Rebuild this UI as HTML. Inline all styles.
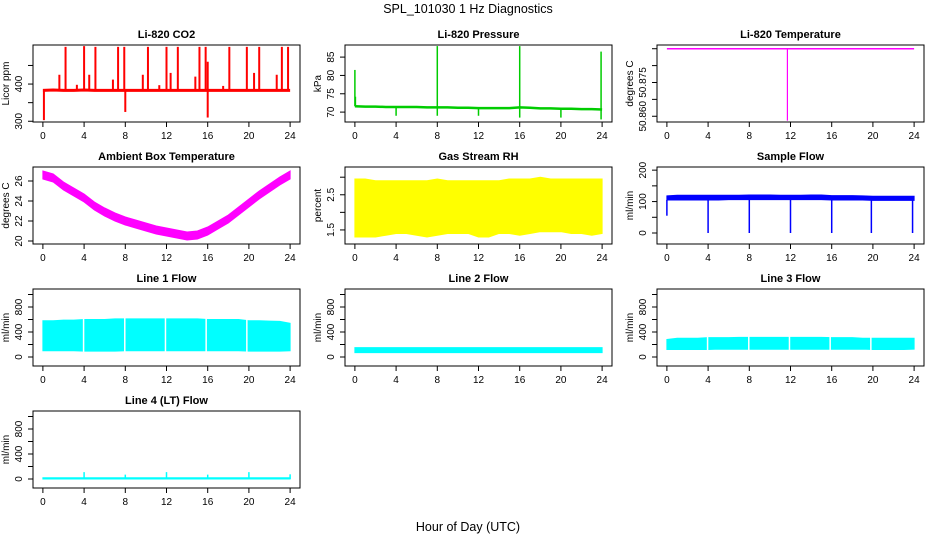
<!DOCTYPE html>
<html><head><meta charset="utf-8"><style>
html,body{margin:0;padding:0;background:#fff;}
svg{display:block;font-family:"Liberation Sans",sans-serif;}
</style></head><body>
<svg id="c" width="936" height="540" viewBox="0 0 936 540" xmlns="http://www.w3.org/2000/svg">
<text x="468" y="13" text-anchor="middle" font-size="12.5">SPL_101030  1 Hz Diagnostics</text>
<text x="468" y="531" text-anchor="middle" font-size="12.5">Hour of Day (UTC)</text>
</svg>
<script>
// ---- shared data ----
const xTicks = [0,4,8,12,16,20,24];
const hours = [0,1,2,3,4,5,6,7,8,9,10,11,12,13,14,15,16,17,18,19,20,21,22,23,24];

// CO2
const co2Base = [383,384,383,383,384,383,383,383,383,383,383,383,383,383,383,383,383,383,383,383,383,383,383,383,383];
const co2SpikeHours = [2.2,4.0,5.1,7.3,7.9,10.2,12.0,13.1,15.2,15.8,18.1,19.8,21.0,23.2,23.8,1.6,4.5,6.8,9.7,12.4,14.8,16.0,20.5,22.7,0.1,8.0,16.0,3.3,11.3,17.5];
const co2SpikeVals  = [500,502,500,500,500,500,500,500,500,500,500,500,500,500,500,425,425,412,425,430,420,460,430,425,303,325,310,398,397,395];
const co2Ticks = [300,350,400,450];
const co2Labels = ["300","","400",""];

// Pressure
const presBase = [71.6,71.5,71.5,71.4,71.4,71.4,71.4,71.3,71.3,71.3,71.2,71.2,71.1,71.1,71.1,71.1,71.3,71.2,71.0,71.0,70.9,70.9,70.8,70.8,70.7];
const presSpikeHours = [0.0,0.05,8.0,16.0,23.9,4.0,8.0,12.0,16.0,20.0,23.9];
const presSpikeVals  = [81.5,74.2,88.0,88.0,86.5,69.0,69.0,69.0,68.5,68.5,68.0];
const presTicks = [70,75,80,85];
const presLabels = ["70","75","80","85"];

// Li-820 temperature
const ltBase = [50.88,50.88,50.88,50.88,50.88,50.88,50.88,50.88,50.88,50.88,50.88,50.88,50.88,50.88,50.88,50.88,50.88,50.88,50.88,50.88,50.88,50.88,50.88,50.88,50.88];
const ltSpikeHours = [11.7];
const ltSpikeVals = [50.8587];
const ltTicks = [50.860,50.865,50.870,50.875,50.880];
const ltLabels = ["50.860","","50.875","",""];

// Ambient box temperature
const ambMid = [26.6,26.3,25.5,24.9,24.3,23.5,22.9,22.4,22.0,21.7,21.4,21.1,20.9,20.7,20.5,20.6,21.0,21.6,22.2,23.0,23.8,24.6,25.3,26.0,26.6];
const ambTicks = [20,22,24,26];
const ambLabels = ["20","22","24","26"];

// Gas stream RH
const rhLo = [1.3,1.3,1.3,1.35,1.4,1.4,1.35,1.3,1.35,1.4,1.4,1.4,1.3,1.3,1.4,1.4,1.35,1.4,1.45,1.45,1.45,1.4,1.4,1.35,1.4];
const rhHi = [2.95,2.95,2.9,2.9,2.9,2.9,2.9,2.9,2.95,2.9,2.9,2.9,2.9,2.9,2.9,2.95,2.95,2.95,3.0,2.95,2.95,2.95,2.95,2.95,2.95];
const rhTicks = [1.5,2.0,2.5,3.0];
const rhLabels = ["1.5","","2.5",""];

// Sample flow
const sfLo = [105,105,105,105,105,105,106,106,106,106,106,106,106,106,106,106,105,105,105,105,104,104,104,104,104];
const sfHi = [118,120,120,120,120,120,120,120,121,121,121,120,120,120,121,121,119,119,119,118,117,117,117,117,117];
const sfDipHours = [0.0,4.0,8.0,12.0,16.0,19.85,23.85];
const sfDipVals  = [55,0,0,0,0,0,0];
const sfTicks = [0,50,100,150,200];
const sfLabels = ["0","","100","","200"];

// Line flows
const flowTicks = [0,200,400,600,800,1000];
const flowLabels = ["0","","400","","800",""];
const gapHours = [3.95,7.95,11.9,15.85,19.8];
const l1Lo = [100,100,100,100,95,95,95,95,100,100,100,100,100,100,100,100,100,100,100,100,95,95,95,95,100];
const l1Hi = [580,580,590,590,600,600,600,610,610,610,610,610,610,610,610,610,600,600,600,600,580,580,575,570,540];
const l2Lo = [70,70,70,70,70,70,70,70,70,70,70,70,70,70,70,70,70,70,70,70,70,70,70,70,70];
const l2Hi = [150,150,150,150,150,150,150,150,150,150,150,150,150,150,150,150,150,150,150,150,150,150,150,150,150];
const l3Lo = [120,120,120,120,120,125,125,125,125,125,125,125,125,125,125,125,125,125,125,125,120,120,120,120,125];
const l3Hi = [280,300,300,300,310,310,310,315,315,315,315,315,315,315,315,315,310,310,310,300,300,300,300,300,300];
const l4Lo = [0,0,0,0,0,0,0,0,0,0,0,0,0,0,0,0,0,0,0,0,0,0,0,0,0];
const l4Hi = [20,20,20,20,20,20,20,20,20,20,20,20,20,20,20,20,20,20,20,20,20,20,20,20,20];
const l4SpikeHours = [4,8,12,16,20,24];
const l4SpikeVals = [110,70,110,70,110,75];

const svg = document.getElementById('c');
const NS = 'http://www.w3.org/2000/svg';
function mk(tag, attrs, parent){
  const e = document.createElementNS(NS, tag);
  for (const k in attrs) e.setAttribute(k, attrs[k]);
  (parent||svg).appendChild(e);
  return e;
}

function panel(opt){
  const L = 33 + 312*opt.col, T = 45 + 122*opt.row, W = 267, H = 77;
  const g = mk('g', {});
  
  
  const xs = h => L + (h + 0.96) / 25.92 * W;
  const ys = v => T + H - (v - opt.ylo) / (opt.yhi - opt.ylo) * H;
  const c = opt.color;
  if (opt.lo && opt.hi){
    let pts = hours.map((h,i)=>xs(h)+','+ys(opt.hi[i]));
    for (let i=hours.length-1;i>=0;i--) pts.push(xs(hours[i])+','+ys(opt.lo[i]));
    const b = mk('polygon', {points: pts.join(' '), fill: c, stroke: c, 'stroke-width': 1}, g);
    
    
  }
  if (opt.base){
    const p = mk('polyline', {points: hours.map((h,i)=>xs(h)+','+ys(opt.base[i])).join(' '), fill:'none', stroke:c, 'stroke-width': opt.bw||2.5}, g);
    
    
  }
  if (opt.gaps){
    opt.gaps.forEach(h=>{
      const r = mk('line', {x1:xs(h), x2:xs(h), y1:T+2, y2:T+H-2, stroke:'#fff', 'stroke-width':1.5}, g);
      
      
    });
  }
  if (opt.spH){
    opt.spH.forEach((h,i)=>{
      const bi = Math.min(24, Math.max(0, Math.round(h)));
      const from = opt.base ? opt.base[bi] : (opt.spFrom!==undefined ? opt.spFrom : (opt.lo ? (opt.spV[i] < opt.lo[bi] ? opt.lo[bi] : opt.hi[bi]) : 0));
      const s = mk('line', {x1:xs(h), x2:xs(h), y1:ys(from), y2:ys(opt.spV[i]), stroke:c, 'stroke-width': opt.sw||1.5}, g);
      
      
    });
  }
  const bx = mk('rect', {x:L, y:T, width:W, height:H, fill:'none', stroke:'#000', 'stroke-width':1}, g);
  
  
  const t = mk('text', {x:L+W/2, y:T-7, 'text-anchor':'middle', 'font-size':11, 'font-weight':'bold'}, g);
  t.textContent = opt.title;
  
  
  mk('line', {x1:xs(0), x2:xs(24), y1:T+H, y2:T+H, stroke:'#000'}, g);
  xTicks.forEach(v=>{
    mk('line', {x1:xs(v), x2:xs(v), y1:T+H, y2:T+H+5, stroke:'#000'}, g);
    const tl = mk('text', {x:xs(v), y:T+H+17, 'text-anchor':'middle', 'font-size':10}, g);
    tl.textContent = v;
    
    
  });
  mk('line', {x1:L, x2:L, y1:ys(opt.ticks[0]), y2:ys(opt.ticks[opt.ticks.length-1]), stroke:'#000'}, g);
  opt.ticks.forEach((v,i)=>{
    mk('line', {x1:L-5, x2:L, y1:ys(v), y2:ys(v), stroke:'#000'}, g);
    if (opt.labels[i]){
      const yl = mk('text', {x:0, y:0, 'text-anchor':'middle', 'font-size':10, transform:`translate(${L-11},${ys(v)}) rotate(-90)`}, g);
      yl.textContent = opt.labels[i];
      
      
    }
  });
  const ya = mk('text', {x:0, y:0, 'text-anchor':'middle', 'font-size':10, transform:`translate(${L-24},${T+H/2}) rotate(-90)`}, g);
  ya.textContent = opt.ylab;
  
  
}

const ambLo = ambMid.map(v=>v-0.4), ambHi = ambMid.map(v=>v+0.4);
panel({name:'co2-panel', col:0,row:0,title:'Li-820 CO2', ylab:'Licor ppm', color:'#ff0000', ylo:298, yhi:505, ticks:co2Ticks, labels:co2Labels, base:co2Base, bw:3, spH:co2SpikeHours, spV:co2SpikeVals, sw:2});
panel({name:'pressure-panel', col:1,row:0,title:'Li-820 Pressure', ylab:'kPa', color:'#00cc00', ylo:67.3, yhi:88.3, ticks:presTicks, labels:presLabels, base:presBase, bw:2.5, spH:presSpikeHours, spV:presSpikeVals, sw:1.5});
panel({name:'licor-temp-panel', col:2,row:0,title:'Li-820 Temperature', ylab:'degrees C', color:'#ff00ff', ylo:50.8583, yhi:50.8811, ticks:ltTicks, labels:ltLabels, base:ltBase, bw:1.5, spH:ltSpikeHours, spV:ltSpikeVals, sw:1.2});
panel({name:'ambient-temp-panel', col:0,row:1,title:'Ambient Box Temperature', ylab:'degrees C', color:'#ff00ff', ylo:19.7, yhi:27.4, ticks:ambTicks, labels:ambLabels, lo:ambLo, hi:ambHi});
panel({name:'rh-panel', col:1,row:1,title:'Gas Stream RH', ylab:'percent', color:'#ffff00', ylo:1.1, yhi:3.29, ticks:rhTicks, labels:rhLabels, lo:rhLo, hi:rhHi});
panel({name:'sample-flow-panel', col:2,row:1,title:'Sample Flow', ylab:'ml/min', color:'#0000ff', ylo:-35, yhi:210, ticks:sfTicks, labels:sfLabels, lo:sfLo, hi:sfHi, spH:sfDipHours, spV:sfDipVals, sw:1.5});
panel({name:'line1-flow-panel', col:0,row:2,title:'Line 1 Flow', ylab:'ml/min', color:'#00ffff', ylo:-144, yhi:1088, ticks:flowTicks, labels:flowLabels, lo:l1Lo, hi:l1Hi, gaps:gapHours});
panel({name:'line2-flow-panel', col:1,row:2,title:'Line 2 Flow', ylab:'ml/min', color:'#00ffff', ylo:-144, yhi:1088, ticks:flowTicks, labels:flowLabels, lo:l2Lo, hi:l2Hi});
panel({name:'line3-flow-panel', col:2,row:2,title:'Line 3 Flow', ylab:'ml/min', color:'#00ffff', ylo:-144, yhi:1088, ticks:flowTicks, labels:flowLabels, lo:l3Lo, hi:l3Hi, gaps:gapHours});
panel({name:'line4-flow-panel', col:0,row:3,title:'Line 4 (LT) Flow', ylab:'ml/min', color:'#00ffff', ylo:-144, yhi:1088, ticks:flowTicks, labels:flowLabels, lo:l4Lo, hi:l4Hi, spH:l4SpikeHours, spV:l4SpikeVals, spFrom:0, sw:1.5});
</script>
</body></html>
